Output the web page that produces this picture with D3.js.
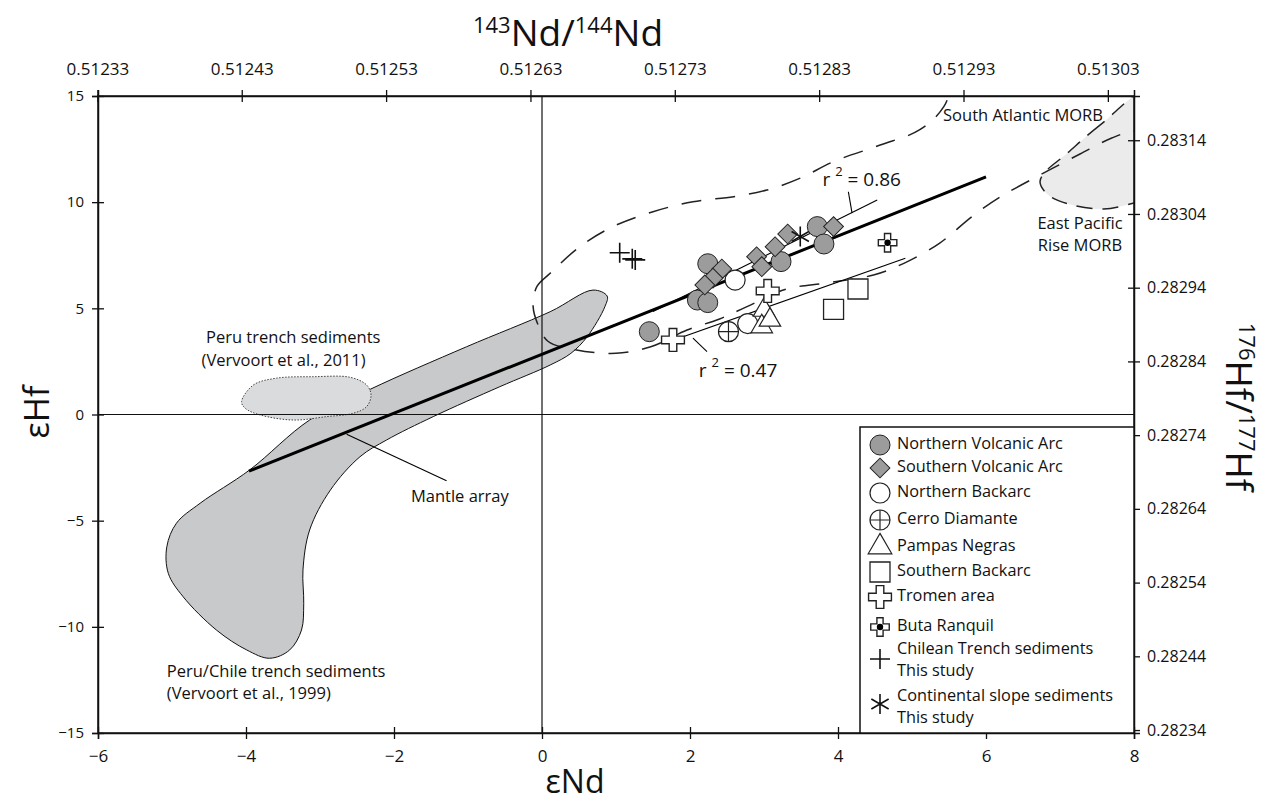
<!DOCTYPE html>
<html><head><meta charset="utf-8">
<script src="https://cdn.jsdelivr.net/npm/d3@7"></script>
<style>
body{margin:0;background:#fff;}
svg{display:block;}
text{font-family:"Open Sans",sans-serif;fill:#111;}
</style>
</head><body>
<svg id="chart" width="1267" height="801"></svg>
<script>
// ---------------- DATA ----------------
const xTickVals = [-6, -4, -2, 0, 2, 4, 6, 8];
const yTickVals = [-15, -10, -5, 0, 5, 10, 15];
const ndRatioTicks = [0.51233, 0.51243, 0.51253, 0.51263, 0.51273, 0.51283, 0.51293, 0.51303];
const hfRatioTicks = [0.28234, 0.28244, 0.28254, 0.28264, 0.28274, 0.28284, 0.28294, 0.28304, 0.28314];

// sample groups [eNd, eHf]
const northernVolcanicArc = [[1.45, 3.90], [2.24, 7.10], [2.10, 5.39], [2.24, 5.27], [3.23, 7.20], [3.72, 8.85], [3.81, 8.03]];
const southernVolcanicArc = [[2.43, 6.85], [2.31, 6.42], [2.20, 6.10], [2.90, 7.43], [2.97, 6.96], [3.15, 7.90], [3.32, 8.50], [3.94, 8.85]];
const northernBackarc = [[2.61, 6.33], [2.78, 4.28]];
const cerroDiamante = [[2.52, 3.90]];
const pampasNegras = [[3.00, 4.92], [2.97, 4.14], [3.08, 4.45]];
const southernBackarc = [[3.94, 4.95], [4.27, 5.91]];
const tromenArea = [[1.77, 3.51], [3.05, 5.82]];
const butaRanquil = [[4.67, 8.09]];
const chileanTrench = [[1.05, 7.62], [1.22, 7.33], [1.26, 7.28]];
const continentalSlope = [[3.49, 8.38]];

// lines
const mantleArray = [[-3.96, -2.67], [6.0, 11.19]];
const regression086 = [[1.50, 4.85], [4.53, 10.10]];
const regression047 = [[1.85, 3.59], [4.91, 7.36]];

// fields (outline vertices)
const fieldPeruChile = [[0.88, 5.58], [0.69, 5.86], [0.11, 4.84], [-1.02, 3.19], [-2.32, 1.19], [-3.14, -0.26], [-3.95, -2.61], [-4.62, -4.18], [-4.94, -5.12], [-5.07, -6.23], [-5.05, -7.48], [-4.85, -8.58], [-4.40, -10.15], [-3.99, -11.09], [-3.68, -11.48], [-3.41, -11.09], [-3.25, -10.15], [-3.22, -8.89], [-3.23, -7.32], [-3.14, -5.44], [-2.86, -3.56], [-2.46, -1.99], [-2.10, -1.20], [-1.47, -0.10], [-0.57, 1.31], [0.11, 2.33], [0.39, 2.88], [0.61, 3.66], [0.85, 5.08]];
const fieldPeru2011 = [[-4.06, 0.60], [-3.90, 1.39], [-3.59, 1.71], [-3.09, 1.78], [-2.59, 1.75], [-2.37, 1.39], [-2.31, 0.92], [-2.37, 0.37], [-2.55, 0.06], [-2.91, -0.10], [-3.36, -0.26], [-3.81, -0.02], [-4.01, 0.29]];
const fieldSouthAtlantic = [[-0.12, 5.08], [-0.07, 6.02], [0.11, 6.65], [0.51, 7.90], [0.96, 8.85], [1.50, 9.55], [2.04, 10.02], [2.59, 10.26], [3.04, 10.57], [3.49, 11.13], [3.94, 11.91], [4.57, 12.69], [5.10, 13.40], [5.43, 14.50], [5.75, 17.5], [7.0, 19.5], [8.6, 18.5], [8.5, 13.3], [8.0, 13.35], [7.70, 13.02], [7.27, 12.27], [6.73, 11.28], [6.19, 10.24], [5.81, 9.32], [5.37, 8.06], [4.89, 7.12], [4.48, 6.57], [3.86, 6.20], [3.30, 5.90], [2.77, 5.08], [2.40, 4.50], [1.96, 3.98], [1.47, 3.19], [1.00, 2.88], [0.45, 3.05], [0.08, 3.45], [-0.05, 4.20]];
const fieldEPR = [[8.3, 15.5], [7.54, 13.63], [7.07, 12.22], [6.80, 11.42], [6.73, 10.95], [6.84, 10.34], [7.16, 9.87], [7.59, 9.68], [8.0, 9.96], [8.3, 10.3]];

const legendLabels = [
  ["Northern Volcanic Arc"], ["Southern Volcanic Arc"], ["Northern Backarc"], ["Cerro Diamante"],
  ["Pampas Negras"], ["Southern Backarc"], ["Tromen area"], ["Buta Ranquil"],
  ["Chilean Trench sediments", "This study"], ["Continental slope sediments", "This study"]
];
const legendKeys = ["nva", "sva", "nba", "cd", "pn", "sba", "tro", "buta", "chile", "slope"];

// ---------------- SCALES ----------------
const svg = d3.select("#chart");
const L = 98, R = 1134, T = 96, B = 733;
const x = d3.scaleLinear().domain([-6, 8]).range([L, R]);
const y = d3.scaleLinear().domain([-15, 15]).range([B, T]);
const CHUR_ND = 0.512638;
const xTop = d3.scaleLinear().domain([CHUR_ND * (1 - 6e-4), CHUR_ND * (1 + 8e-4)]).range([L, R]);
const yRight = d3.scaleLinear().domain([0.282336, 0.283200]).range([B, T]);

svg.append("defs").append("clipPath").attr("id", "plotclip")
  .append("rect").attr("x", L).attr("y", T).attr("width", R - L).attr("height", B - T);

const plot = svg.append("g").attr("clip-path", "url(#plotclip)");
const closedLine = d3.line().x(d => x(d[0])).y(d => y(d[1])).curve(d3.curveCatmullRomClosed.alpha(0.5));
const straight = d3.line().x(d => x(d[0])).y(d => y(d[1]));

// fields
plot.append("path").attr("d", closedLine(fieldEPR))
  .attr("fill", "#ebebeb").attr("stroke", "#222").attr("stroke-width", 1.5).attr("stroke-dasharray", "16,10");
plot.append("path").attr("d", closedLine(fieldPeruChile))
  .attr("fill", "#c8c9ca").attr("stroke", "#111").attr("stroke-width", 1);
plot.append("path").attr("d", closedLine(fieldPeru2011))
  .attr("fill", "#d9dbdd").attr("stroke", "#444").attr("stroke-width", 1).attr("stroke-dasharray", "1.5,1.5");
plot.append("path").attr("d", closedLine(fieldSouthAtlantic))
  .attr("fill", "none").attr("stroke", "#222").attr("stroke-width", 1.5).attr("stroke-dasharray", "20,14");

// zero lines
plot.append("line").attr("x1", x(0)).attr("x2", x(0)).attr("y1", T).attr("y2", B).attr("stroke", "#111").attr("stroke-width", 1.2);
plot.append("line").attr("x1", L).attr("x2", R).attr("y1", y(0)).attr("y2", y(0)).attr("stroke", "#111").attr("stroke-width", 1.2);

// lines
plot.append("path").attr("d", straight(mantleArray)).attr("stroke", "#000").attr("stroke-width", 3).attr("fill", "none");
plot.append("path").attr("d", straight(regression086)).attr("stroke", "#000").attr("stroke-width", 1.1).attr("fill", "none");
plot.append("path").attr("d", straight(regression047)).attr("stroke", "#000").attr("stroke-width", 1.1).attr("fill", "none");

// leader lines
const leaders = [[[-2.64, -0.93], [-1.29, -3.12]], [[4.19, 9.48], [4.14, 10.49]], [[2.04, 3.60], [2.23, 2.96]]];
leaders.forEach(l => plot.append("path").attr("d", straight(l)).attr("stroke", "#000").attr("stroke-width", 1.1).attr("fill", "none"));

// ---------------- SYMBOLS ----------------
const plusType = {draw(ctx, size) {const r = Math.sqrt(size) / 2; ctx.moveTo(-r, 0); ctx.lineTo(r, 0); ctx.moveTo(0, -r); ctx.lineTo(0, r);}};
const asteriskType = {draw(ctx, size) {const r = Math.sqrt(size) / 2; for (let i = 0; i < 3; i++) {const a = Math.PI / 2 + i * Math.PI / 3; ctx.moveTo(r * Math.cos(a), r * Math.sin(a)); ctx.lineTo(-r * Math.cos(a), -r * Math.sin(a));}}};
const GRAY = "#9c9c9c";

function drawSymbol(g, key, px, py, s) {
  s = s || 1;
  const gg = g.append("g").attr("transform", `translate(${px},${py})`);
  if (key === "nva") gg.append("circle").attr("r", 10 * s).attr("fill", GRAY).attr("stroke", "#222").attr("stroke-width", 1);
  else if (key === "sva") gg.append("path").attr("d", d3.symbol(d3.symbolSquare, 196 * s * s)()).attr("transform", "rotate(45)").attr("fill", GRAY).attr("stroke", "#222").attr("stroke-width", 1);
  else if (key === "nba") gg.append("circle").attr("r", 10 * s).attr("fill", "#fff").attr("stroke", "#222").attr("stroke-width", 1.2);
  else if (key === "cd") {
    gg.append("circle").attr("r", 10 * s).attr("fill", "#fff").attr("stroke", "#222").attr("stroke-width", 1.2);
    gg.append("path").attr("d", d3.symbol(plusType, 400 * s * s)()).attr("stroke", "#222").attr("stroke-width", 1.2);
  }
  else if (key === "pn") gg.append("path").attr("d", d3.symbol(d3.symbolTriangle, 200 * s * s)()).attr("fill", "#fff").attr("stroke", "#222").attr("stroke-width", 1.2);
  else if (key === "sba") gg.append("path").attr("d", d3.symbol(d3.symbolSquare, 400 * s * s)()).attr("fill", "#fff").attr("stroke", "#222").attr("stroke-width", 1.3);
  else if (key === "tro") gg.append("path").attr("d", d3.symbol(d3.symbolCross, 290 * s * s)()).attr("fill", "#fff").attr("stroke", "#222").attr("stroke-width", 1.4);
  else if (key === "buta") {
    gg.append("path").attr("d", d3.symbol(d3.symbolCross, 190 * s * s)()).attr("fill", "#fff").attr("stroke", "#222").attr("stroke-width", 1.4);
    gg.append("circle").attr("r", 3.2 * s).attr("fill", "#000");
  }
  else if (key === "chile") gg.append("path").attr("d", d3.symbol(plusType, 400 * s * s)()).attr("stroke", "#111").attr("stroke-width", 1.6);
  else if (key === "slope") gg.append("path").attr("d", d3.symbol(asteriskType, 400 * s * s)()).attr("stroke", "#111").attr("stroke-width", 1.6);
}

const groups = [
  ["nba", northernBackarc], ["cd", cerroDiamante], ["pn", pampasNegras], ["sba", southernBackarc],
  ["tro", tromenArea], ["buta", butaRanquil], ["chile", chileanTrench],
  ["nva", northernVolcanicArc], ["sva", southernVolcanicArc], ["slope", continentalSlope]
];
const pts = svg.append("g");
groups.forEach(([k, arr]) => arr.forEach(d => drawSymbol(pts, k, x(d[0]), y(d[1]))));

// ---------------- ANNOTATIONS ----------------
const ANN = 16.5;
function label(txt, ex, ey, anchor, size) {
  return svg.append("text").attr("x", x(ex)).attr("y", y(ey)).attr("text-anchor", anchor || "start")
    .attr("font-size", size || ANN).attr("dominant-baseline", "middle").text(txt);
}
label("Peru trench sediments", -4.54, 3.56);
label("(Vervoort et al., 2011)", -4.6, 2.48);
label("Peru/Chile trench sediments", -5.07, -12.14);
label("(Vervoort et al., 1999)", -5.07, -13.2);
label("Mantle array", -1.11, -3.9, "middle");
label("South Atlantic MORB", 6.5, 14.01, "middle");
label("East Pacific", 7.27, 8.93, "middle");
label("Rise MORB", 7.27, 7.9, "middle");

function rsq(val, ex, ey) {
  const t = svg.append("text").attr("x", x(ex)).attr("y", y(ey)).attr("text-anchor", "middle").attr("font-size", 19).attr("dominant-baseline", "middle");
  t.append("tspan").text("r ");
  t.append("tspan").attr("font-size", 13).attr("dy", -8).text("2");
  t.append("tspan").attr("dy", 8).text(" = " + val);
}
rsq("0.86", 4.32, 10.98);
rsq("0.47", 2.65, 2.01);

// ---------------- FRAME & AXES ----------------
svg.append("rect").attr("x", L).attr("y", T).attr("width", R - L).attr("height", B - T)
  .attr("fill", "none").attr("stroke", "#111").attr("stroke-width", 1.5);

function crossTicks(g, attr, v) {g.selectAll(".tick line").attr(attr, v).attr("stroke", "#111").attr("stroke-width", 1.3);}

const gB = svg.append("g").attr("transform", `translate(0,${B})`)
  .call(d3.axisBottom(x).tickValues(xTickVals).tickSize(6).tickPadding(11).tickFormat(d3.format("d")));
crossTicks(gB, "y1", -6);
gB.selectAll("text").attr("font-size", 17).attr("font-family", "'Open Sans', sans-serif").attr("fill", "#111");

const gT = svg.append("g").attr("transform", `translate(0,${T})`)
  .call(d3.axisTop(xTop).tickValues(ndRatioTicks).tickSize(6).tickPadding(15).tickFormat(d3.format(".5f")));
crossTicks(gT, "y1", 6);
gT.selectAll("text").attr("font-size", 17).attr("font-family", "'Open Sans', sans-serif").attr("fill", "#111");

const gL = svg.append("g").attr("transform", `translate(${L},0)`)
  .call(d3.axisLeft(y).tickValues(yTickVals).tickSize(6).tickPadding(8).tickFormat(d3.format("d")));
crossTicks(gL, "x1", 6);
gL.selectAll("text").attr("font-size", 15).attr("font-family", "'DejaVu Sans', sans-serif").attr("fill", "#111");

const gR = svg.append("g").attr("transform", `translate(${R},0)`)
  .call(d3.axisRight(yRight).tickValues(hfRatioTicks).tickSize(6).tickPadding(7).tickFormat(d3.format(".5f")));
crossTicks(gR, "x1", -6);
gR.selectAll("text").attr("font-size", 16).attr("font-family", "'DejaVu Sans', sans-serif").attr("fill", "#111");

[gB, gT, gL, gR].forEach(g => g.select(".domain").attr("stroke", "#111").attr("stroke-width", 1.5));

// axis titles
svg.append("text").attr("x", 575).attr("y", 784).attr("text-anchor", "middle").attr("font-size", 32).attr("dominant-baseline", "middle").text("εNd");
svg.append("text").attr("transform", "translate(40,412) rotate(-90)").attr("text-anchor", "middle").attr("font-size", 34).attr("dominant-baseline", "middle").text("εHf");
const tt = svg.append("text").attr("x", 568).attr("y", 46).attr("text-anchor", "middle").attr("font-size", 37);
tt.append("tspan").attr("font-size", 22).attr("dy", -13).text("143");
tt.append("tspan").attr("dy", 13).text("Nd/");
tt.append("tspan").attr("font-size", 22).attr("dy", -13).text("144");
tt.append("tspan").attr("dy", 13).text("Nd");
const rt = svg.append("text").attr("transform", "translate(1226,407) rotate(90)").attr("text-anchor", "middle").attr("font-size", 37);
rt.append("tspan").attr("font-size", 22).attr("dy", -13).text("176");
rt.append("tspan").attr("dy", 13).text("Hf/");
rt.append("tspan").attr("font-size", 22).attr("dy", -13).text("177");
rt.append("tspan").attr("dy", 13).text("Hf");

// ---------------- LEGEND ----------------
const lg = svg.append("g");
lg.append("rect").attr("x", 860).attr("y", 427).attr("width", R - 860).attr("height", B - 427)
  .attr("fill", "#fff").attr("stroke", "#111").attr("stroke-width", 1.5);
const legendRowY = [445, 468, 493, 520, 547, 572, 597, 627, 0, 0];
const legendMultiY = {8: [650, 672, 659], 9: [697, 719, 704]};
legendKeys.forEach((k, i) => {
  let symY, lines;
  if (legendMultiY[i]) {symY = legendMultiY[i][2]; lines = [legendMultiY[i][0], legendMultiY[i][1]];}
  else {symY = legendRowY[i]; lines = [legendRowY[i]];}
  drawSymbol(lg, k, 880, symY, k === "pn" ? 1.1 : 1);
  legendLabels[i].forEach((t, j) => {
    lg.append("text").attr("x", 897).attr("y", lines[j]).attr("dominant-baseline", "middle").attr("font-size", 16.3).text(t);
  });
});
</script>
</body></html>
